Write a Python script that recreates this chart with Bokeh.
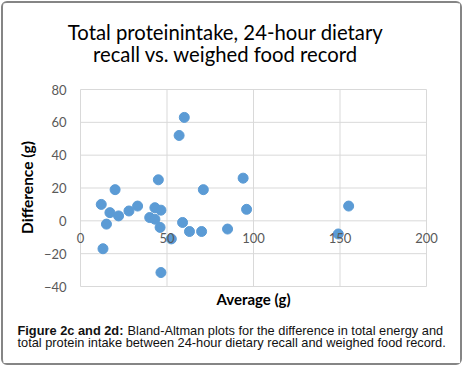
import math
from bokeh.plotting import figure
from bokeh.models import Label, Range1d, FixedTicker, LinearAxis
from bokeh.embed import file_html
from bokeh.resources import INLINE

# ---- data ----
average_g = [12, 13, 15, 17, 20, 22, 28, 33, 40, 43, 43, 45, 46.5, 46, 46.5, 52.5,
             57, 60, 59, 63, 70, 71, 85, 94, 96, 149, 155]
difference_g = [10, -17, -2, 5, 19, 3, 6, 9, 2, 1, 8, 25, 6.5, -4, -31.5, -11,
                52, 63, -1, -6.5, -6.5, 19, -5, 26, 7, -8, 9]
x_ticks = [0, 50, 100, 150, 200]
y_ticks = [-40, -20, 0, 20, 40, 60, 80]
x_min, x_max = 0, 200
y_min, y_max = -40, 80

title_lines = ["Total proteinintake, 24-hour dietary", "recall vs. weighed food record"]
x_title = "Average (g)"
y_title = "Difference (g)"
caption_bold = "Figure 2c and 2d:"
caption_rest1 = "Bland-Altman plots for the difference in total energy and"
caption_line2 = "total protein intake between 24-hour dietary recall and weighed food record."

# ---- layout (page pixels) ----
OX, OY = 3, 3            # canvas offset on the page
W, H = 457, 360
PL, PR, PT, PB = 80 - OX, 426 - OX, 89 - OY, 286 - OY   # plot area in canvas pixels
sx = (PR - PL) / (x_max - x_min)
sy = (PB - PT) / (y_max - y_min)
xr = Range1d(x_min - PL / sx, x_max + (W - PR) / sx)
yr = Range1d(y_min - (H - PB) / sy, y_max + PT / sy)

p = figure(width=W, height=H, output_backend="svg", toolbar_location=None,
           x_range=xr, y_range=yr, min_border=0,
           x_axis_location=None, y_axis_location=None)
p.styles = {"margin-left": f"{OX}px", "margin-top": f"{OY}px",
            "outline": "2px solid #858585", "outline-offset": "0px", "border-radius": "4px"}
p.xgrid.visible = False
p.ygrid.visible = False
p.outline_line_color = None

grid_col = "#d9d9d9"
p.segment(x0=x_ticks, y0=[y_min] * len(x_ticks), x1=x_ticks, y1=[y_max] * len(x_ticks),
          line_color=grid_col, line_width=1)
p.segment(x0=[x_min] * len(y_ticks), y0=y_ticks, x1=[x_max] * len(y_ticks), y1=y_ticks,
          line_color=grid_col, line_width=1)

xa = LinearAxis(ticker=FixedTicker(ticks=x_ticks), fixed_location=0, bounds=(x_min, x_max))
ya = LinearAxis(ticker=FixedTicker(ticks=y_ticks), fixed_location=0, bounds=(y_min, y_max))
for ax in (xa, ya):
    ax.axis_line_color = None
    ax.major_tick_line_color = None
    ax.minor_tick_line_color = None
    ax.major_tick_out = 0
    ax.major_tick_in = 0
    ax.major_label_text_font = "Lato"
    ax.major_label_text_font_size = "13px"
    ax.major_label_text_color = "#595959"
xa.major_label_standoff = 12
ya.major_label_standoff = 14
p.add_layout(xa, "below")
p.add_layout(ya, "left")

p.scatter(average_g, difference_g, size=10, color="#5b9bd5", line_color="#5b9bd5")

def lab(text, rx, ry, size, bold=False, font="Lato", color="black", angle=0,
        align="center", baseline="alphabetic"):
    # rx, ry: page position from top-left; screen y is measured from the canvas bottom
    p.add_layout(Label(x=rx - OX, y=H - (ry - OY), x_units="screen", y_units="screen", text=text,
                       text_font=font, text_font_size=size, text_color=color,
                       text_font_style="bold" if bold else "normal", angle=angle,
                       text_align=align, text_baseline=baseline))

lab(title_lines[0], 225, 31, "20.3px")
lab(title_lines[1], 225, 53, "20.3px")
lab(x_title, 253, 298, "15px", bold=True, baseline="middle")
lab(y_title, 26, 187, "15.5px", bold=True, angle=math.pi / 2, baseline="middle")
cap_font = "Liberation Sans"
cap_col = "#111111"
lab(caption_bold, 17, 330, "12.8px", bold=True, font=cap_font, align="left", color=cap_col)
lab(caption_rest1, 127, 330, "12.8px", font=cap_font, align="left", color=cap_col)
lab(caption_line2, 17, 342, "12.8px", font=cap_font, align="left", color=cap_col)

open("out.html", "w").write(file_html(p, INLINE))
